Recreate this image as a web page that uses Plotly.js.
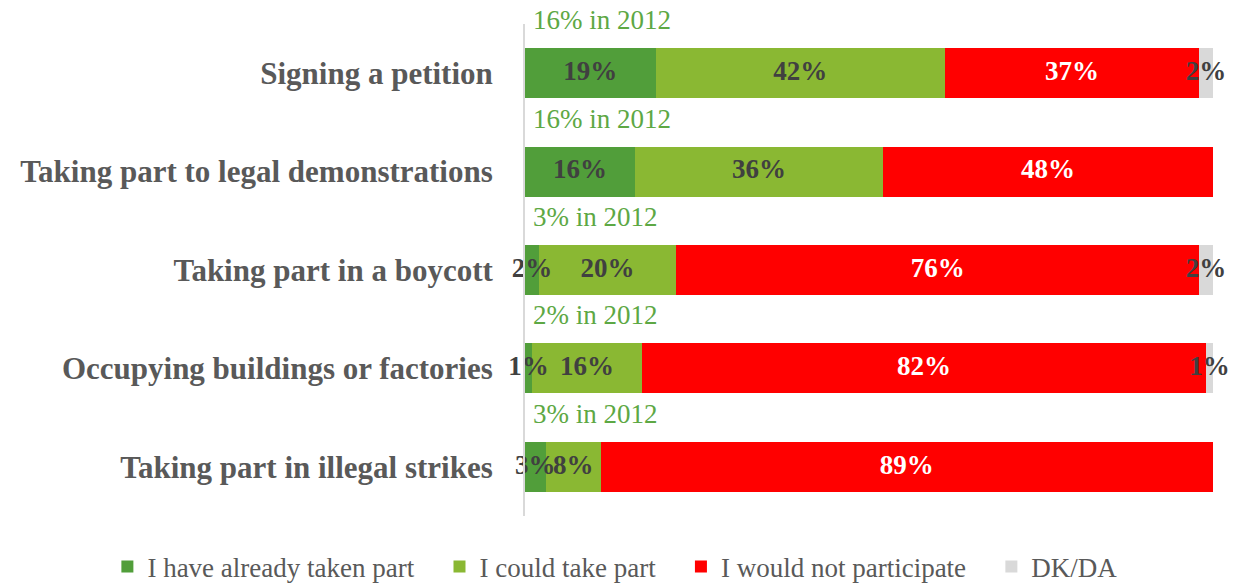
<!DOCTYPE html>
<html>
<head>
<meta charset="utf-8">
<script src="https://cdn.plot.ly/plotly-3.0.1.min.js"></script>
<style>html,body{margin:0;padding:0;background:#fff;}#chart{width:1237px;height:584px;}</style>
</head>
<body>
<div id="chart"></div>
<script>
var categories = ["Signing a petition", "Taking part to legal demonstrations", "Taking part in a boycott", "Occupying buildings or factories", "Taking part in illegal strikes"];
var alreadyTaken = [19, 16, 2, 1, 3];
var couldTake = [42, 36, 20, 16, 8];
var wouldNot = [37, 48, 76, 82, 89];
var dkDa = [2, 0, 2, 1, 0];
var in2012 = [16, 16, 3, 2, 3];
var seriesNames = ["I have already taken part", "I could take part", "I would not participate", "DK/DA"];

var FONT = "'Liberation Serif', 'Times New Roman', serif";
var colors = ["#519E3A", "#8AB833", "#FF0000", "#D9D9D9"];
var textColors = ["#404040", "#404040", "#FFFFFF", "#404040"];
var series = [alreadyTaken, couldTake, wouldNot, dkDa];
var PAD = "\u00a0\u00a0\u00a0";

var traces = series.map(function (vals, i) {
  return {
    type: "bar",
    orientation: "h",
    name: seriesNames[i] + PAD,
    y: categories,
    x: vals,
    width: 0.51,
    marker: { color: colors[i], line: { width: 0 } },
    textposition: "none",
    hoverinfo: "none"
  };
});

// value labels placed at the middle of each stacked segment
var cum = categories.map(function () { return 0; });
series.forEach(function (vals, i) {
  var mids = vals.map(function (v, k) { var m = cum[k] + v / 2; cum[k] += v; return m; });
  traces.push({
    type: "scatter",
    mode: "text",
    x: mids,
    y: categories,
    text: vals.map(function (v) { return v > 0 ? v + "%" : ""; }),
    textposition: "middle center",
    textfont: { family: FONT, size: 27, color: textColors[i], weight: "bold" },
    showlegend: false,
    hoverinfo: "none",
    cliponaxis: false
  });
});

var annotations = in2012.map(function (v, i) {
  return {
    xref: "x", yref: "y", x: 0, y: categories[i],
    xanchor: "left", yanchor: "middle",
    xshift: 6, yshift: 53,
    text: v + "% in 2012",
    showarrow: false,
    font: { family: FONT, size: 27, color: "#5DA844" }
  };
});

var layout = {
  width: 1237, height: 584,
  margin: { l: 525, r: 24, t: 24, b: 68, autoexpand: false },
  paper_bgcolor: "#fff", plot_bgcolor: "#fff",
  barmode: "stack",
  showlegend: true,
  xaxis: { range: [0, 100], visible: false, fixedrange: true },
  yaxis: {
    range: [4.5, -0.5], autorange: false,
    showline: true, linecolor: "#D9D9D9", linewidth: 2,
    showgrid: false, zeroline: false, ticks: "",
    ticklabelstandoff: 24,
    tickfont: { family: FONT, size: 31, color: "#595959", weight: "bold" }
  },
  legend: {
    orientation: "h",
    x: -0.607, xanchor: "left", y: -0.054, yanchor: "top",
    traceorder: "normal",
    itemwidth: 30,
    font: { family: FONT, size: 27, color: "#595959" },
    itemclick: false, itemdoubleclick: false
  },
  annotations: annotations,
  font: { family: FONT }
};

Plotly.newPlot("chart", traces, layout, { displayModeBar: false, staticPlot: true });
</script>
</body>
</html>
